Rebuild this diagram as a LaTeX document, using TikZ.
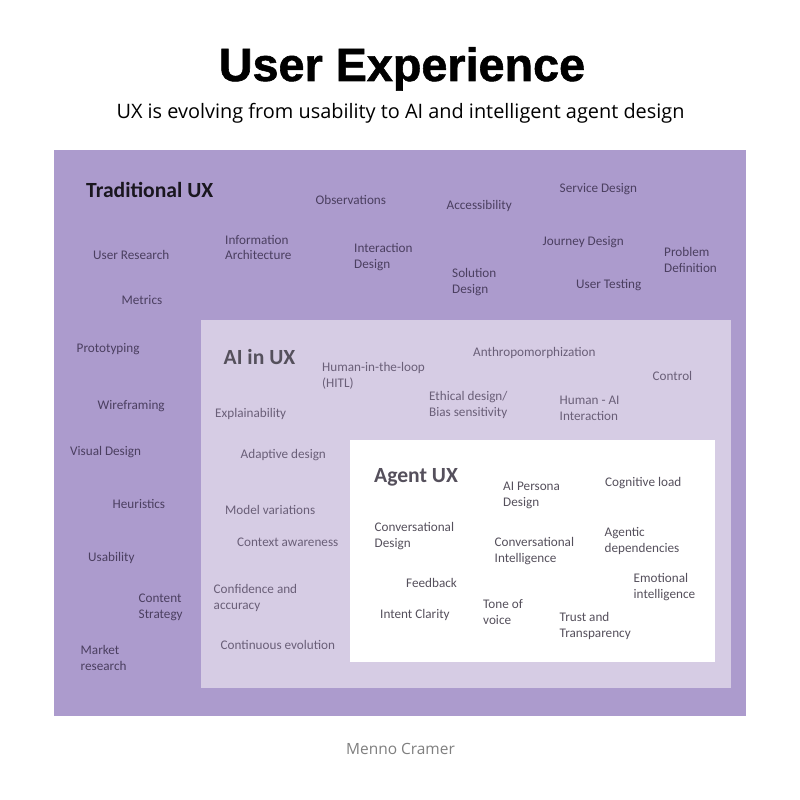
\documentclass[tikz,border=0pt]{standalone}
\usepackage{fontspec}
\setmainfont{Carlito}
\newfontfamily\titlefont{Open Sans}
\newfontfamily\bannerfont{Liberation Sans}[BoldFeatures={FakeBold=1.2}]
\definecolor{tradbg}{HTML}{AC9BCD}
\definecolor{aibg}{HTML}{D6CCE4}
\definecolor{tradtext}{HTML}{4B3F60}
\definecolor{aitext}{HTML}{6A5F78}
\definecolor{agenttext}{HTML}{55505C}
\definecolor{credit}{HTML}{7F7F7F}
\tikzset{
	term/.style={anchor=west,align=left,inner sep=0pt,font=\fontsize{3.75}{4.55}\selectfont},
	tradterm/.style={term,text=tradtext},
	aiterm/.style={term,text=aitext},
	agentterm/.style={term,text=agenttext},
	heading/.style={anchor=west,inner sep=0pt,font=\fontsize{6.15}{7}\selectfont\bfseries}
}
\begin{document}
\begin{tikzpicture}

	\useasboundingbox (0, 0) rectangle (8, 8);
	\fill[white] (0, 0) rectangle (8, 8);

	% panels
	\fill[tradbg] (0.54, 0.84) rectangle (7.46, 6.50);
	\fill[aibg] (2.01, 1.12) rectangle (7.31, 4.80);
	\fill[white] (3.50, 1.38) rectangle (7.15, 3.60);

	% header and footer
	\node[anchor=base,inner sep=0pt,font=\bannerfont\fontsize{13.3}{15}\selectfont\bfseries] (title) at (4.02, 7.19) {User Experience};
	\node[inner sep=0pt,font=\titlefont\fontsize{5.66}{7}\selectfont] (subtitle) at (4.005, 6.87) {UX is evolving from usability to AI and intelligent agent design};
	\node[inner sep=0pt,text=credit,font=\titlefont\fontsize{4.4}{6}\selectfont] (credit) at (4.005, 0.51) {Menno Cramer};

	% traditional ux
	\node[heading,text=black!85!tradbg] (tradhead) at (0.855, 6.10) {Traditional UX};
	\node[tradterm] (observations) at (3.15, 6.005) {Observations};
	\node[tradterm] (accessibility) at (4.46, 5.945) {Accessibility};
	\node[tradterm] (service) at (5.59, 6.11) {Service Design};
	\node[tradterm] (journey) at (5.42, 5.575) {Journey Design};
	\node[tradterm] (problem) at (6.635, 5.40) {Problem\\Definition};
	\node[tradterm] (testing) at (5.755, 5.145) {User Testing};
	\node[tradterm] (solution) at (4.515, 5.18) {Solution\\Design};
	\node[tradterm] (interaction) at (3.535, 5.425) {Interaction\\Design};
	\node[tradterm] (infoarch) at (2.245, 5.525) {Information\\Architecture};
	\node[tradterm] (research) at (0.925, 5.45) {User Research};
	\node[tradterm] (metrics) at (1.21, 5.00) {Metrics};
	\node[tradterm] (prototyping) at (0.76, 4.51) {Prototyping};
	\node[tradterm] (wireframing) at (0.97, 3.94) {Wireframing};
	\node[tradterm] (visual) at (0.695, 3.475) {Visual Design};
	\node[tradterm] (heuristics) at (1.12, 2.96) {Heuristics};
	\node[tradterm] (usability) at (0.875, 2.425) {Usability};
	\node[tradterm] (content) at (1.38, 1.925) {Content\\Strategy};
	\node[tradterm] (market) at (0.80, 1.42) {Market\\research};

	% ai in ux
	\node[heading,text=agenttext] (aihead) at (2.23, 4.43) {AI in UX};
	\node[aiterm] (hitl) at (3.215, 4.24) {Human-in-the-loop\\(HITL)};
	\node[aiterm] (anthropo) at (4.725, 4.47) {Anthropomorphization};
	\node[aiterm] (control) at (6.52, 4.24) {Control};
	\node[aiterm] (ethical) at (4.285, 3.95) {Ethical design/\\Bias sensitivity};
	\node[aiterm] (humanai) at (5.59, 3.92) {Human - AI\\Interaction};
	\node[aiterm] (explain) at (2.145, 3.865) {Explainability};
	\node[aiterm] (adaptive) at (2.40, 3.445) {Adaptive design};
	\node[aiterm] (model) at (2.245, 2.90) {Model variations};
	\node[aiterm] (context) at (2.365, 2.58) {Context awareness};
	\node[aiterm] (confidence) at (2.13, 2.02) {Confidence and\\accuracy};
	\node[aiterm] (evolution) at (2.20, 1.55) {Continuous evolution};

	% agent ux
	\node[heading,text=agenttext] (agenthead) at (3.735, 3.225) {Agent UX};
	\node[agentterm] (persona) at (5.025, 3.05) {AI Persona\\Design};
	\node[agentterm] (cognitive) at (6.045, 3.17) {Cognitive load};
	\node[agentterm] (convdesign) at (3.74, 2.64) {Conversational\\Design};
	\node[agentterm] (convintel) at (4.94, 2.49) {Conversational\\Intelligence};
	\node[agentterm] (agentic) at (6.04, 2.59) {Agentic\\dependencies};
	\node[agentterm] (feedback) at (4.055, 2.175) {Feedback};
	\node[agentterm] (emotional) at (6.33, 2.125) {Emotional\\intelligence};
	\node[agentterm] (intent) at (3.795, 1.855) {Intent Clarity};
	\node[agentterm] (tone) at (4.825, 1.88) {Tone of\\voice};
	\node[agentterm] (trust) at (5.59, 1.74) {Trust and\\Transparency};

\end{tikzpicture}
\end{document}
